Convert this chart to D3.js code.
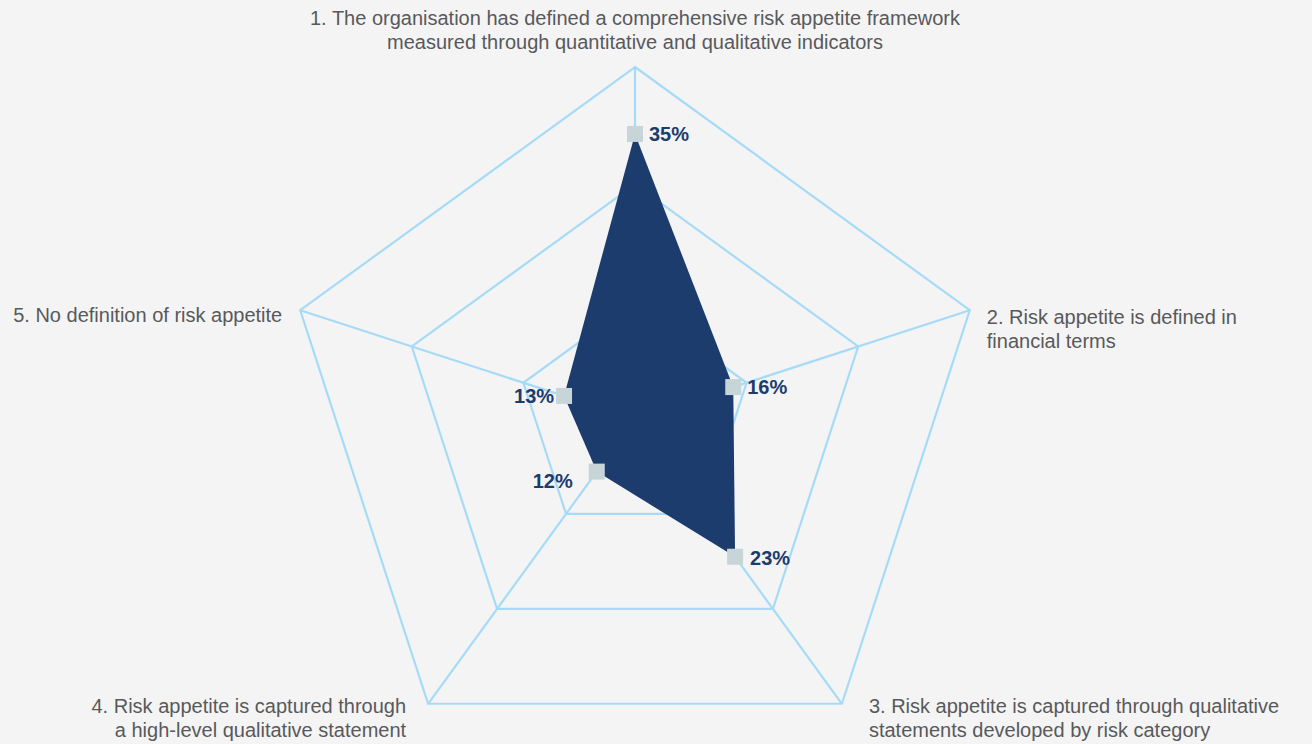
<!DOCTYPE html>
<html lang="en">
  <head>
    <meta charset="UTF-8" />
    <title>Risk appetite radar</title>
    <script src="https://d3js.org/d3.v7.min.js"></script>
    <style>
      body {
        margin: 0;
        padding: 0;
        background: #f4f4f4;
        font-family: "Liberation Sans", Arial, sans-serif;
      }
      svg {
        display: block;
      }
      .axis-label {
        font-size: 20px;
        fill: #58595b;
      }
      .value-label {
        font-size: 20px;
        font-weight: bold;
        fill: #1c3c6e;
      }
    </style>
  </head>
  <body>
    <svg width="1312" height="744"></svg>
    <script>
      // data
      const categories = [
        ["1. The organisation has defined a comprehensive risk appetite framework", "measured through quantitative and qualitative indicators"],
        ["2. Risk appetite is defined in", "financial terms"],
        ["3. Risk appetite is captured through qualitative", "statements developed by risk category"],
        ["4. Risk appetite is captured through", "a high-level qualitative statement"],
        ["5. No definition of risk appetite"]
      ];
      const values = [35, 16, 23, 12, 13];
      const valueLabels = ["35%", "16%", "23%", "12%", "13%"];

      const width = 1312;
      const height = 744;
      const cx = 635;
      const cy = 419;
      const radius = 352;
      const levels = 3;

      const svg = d3.select("svg").attr("width", width).attr("height", height);
      const g = svg.append("g").attr("transform", `translate(${cx},${cy})`);

      const angle = d3.scaleLinear().domain([0, categories.length]).range([0, 2 * Math.PI]);
      const r = d3.scaleLinear().domain([5.2, 42]).range([0, radius]);

      const pt = (i, rad) => [
        rad * Math.sin(angle(i)),
        -rad * Math.cos(angle(i))
      ];

      // grid pentagons
      const gridR = d3.range(1, levels + 1).map((k) => (radius * k) / levels);
      g.selectAll(".grid")
        .data(gridR)
        .enter()
        .append("polygon")
        .attr("class", "grid")
        .attr("points", (d) => categories.map((c, i) => pt(i, d).join(",")).join(" "))
        .attr("fill", "none")
        .attr("stroke", "#a6dbf7")
        .attr("stroke-width", 2.2);

      // spokes
      g.selectAll(".spoke")
        .data(categories)
        .enter()
        .append("line")
        .attr("class", "spoke")
        .attr("x1", 0)
        .attr("y1", 0)
        .attr("x2", (d, i) => pt(i, radius)[0])
        .attr("y2", (d, i) => pt(i, radius)[1])
        .attr("stroke", "#a6dbf7")
        .attr("stroke-width", 2.2);

      // data shape
      const shape = values.map((v, i) => pt(i, r(v)));
      g.append("polygon")
        .attr("points", shape.map((p) => p.join(",")).join(" "))
        .attr("fill", "#1c3c6e");

      // markers
      g.selectAll(".marker")
        .data(values)
        .enter()
        .append("rect")
        .attr("class", "marker")
        .attr("x", (d, i) => pt(i, r(d))[0] - 8)
        .attr("y", (d, i) => pt(i, r(d))[1] - 8)
        .attr("width", 16)
        .attr("height", 16)
        .attr("fill", "#c7d5d8");

      // value labels: offset from marker per axis
      const valueOffsets = [
        { dx: 14, dy: 7, anchor: "start" },
        { dx: 14, dy: 7, anchor: "start" },
        { dx: 15, dy: 8, anchor: "start" },
        { dx: -24, dy: 16, anchor: "end" },
        { dx: -10, dy: 7, anchor: "end" }
      ];
      g.selectAll(".value-label")
        .data(values)
        .enter()
        .append("text")
        .attr("class", "value-label")
        .attr("x", (d, i) => pt(i, r(d))[0] + valueOffsets[i].dx)
        .attr("y", (d, i) => pt(i, r(d))[1] + valueOffsets[i].dy)
        .attr("text-anchor", (d, i) => valueOffsets[i].anchor)
        .text((d, i) => valueLabels[i]);

      // axis labels
      const labelOffsets = [
        { dx: 0, dy: -42, anchor: "middle" },
        { dx: 17, dy: 14, anchor: "start" },
        { dx: 27, dy: 9, anchor: "start" },
        { dx: -22, dy: 9, anchor: "end" },
        { dx: -18, dy: 12, anchor: "end" }
      ];
      const labels = g.selectAll(".axis-label")
        .data(categories)
        .enter()
        .append("text")
        .attr("class", "axis-label")
        .attr("text-anchor", (d, i) => labelOffsets[i].anchor)
        .attr("transform", (d, i) => {
          const p = pt(i, radius);
          return `translate(${p[0] + labelOffsets[i].dx},${p[1] + labelOffsets[i].dy})`;
        });
      labels.selectAll("tspan")
        .data((d) => d)
        .enter()
        .append("tspan")
        .attr("x", 0)
        .attr("dy", (d, j) => (j === 0 ? 0 : 24))
        .text((d) => d);
    </script>
  </body>
</html>
